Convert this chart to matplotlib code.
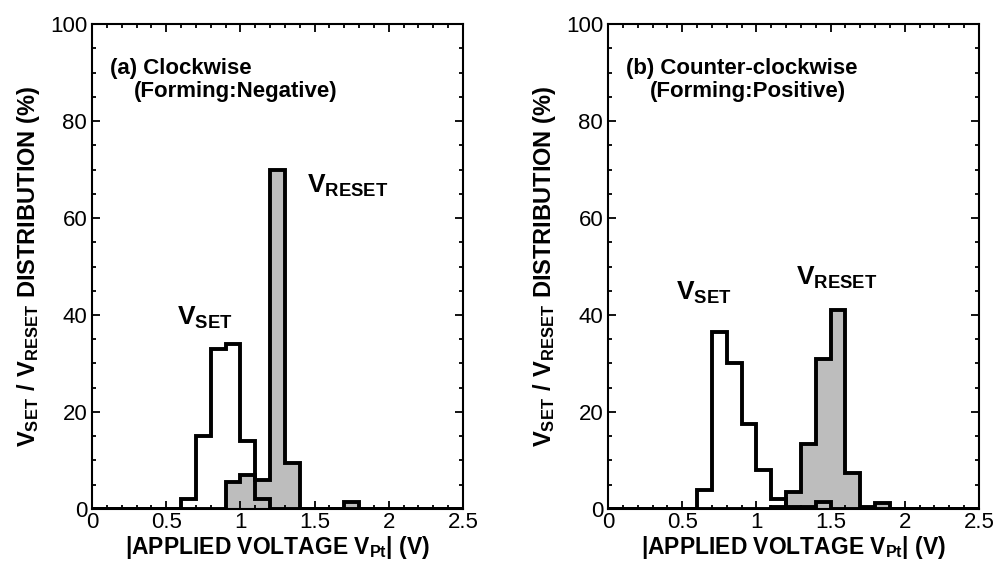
import numpy as np
import matplotlib
matplotlib.use('Agg')
import matplotlib.pyplot as plt
from matplotlib.ticker import MultipleLocator

plt.rcParams['font.family'] = ['Liberation Sans', 'DejaVu Sans']
plt.rcParams['mathtext.fontset'] = 'custom'
plt.rcParams['mathtext.rm'] = 'Liberation Sans'
plt.rcParams['mathtext.bf'] = 'Liberation Sans:bold'

# bin edges of the histograms (V), 0.1 V wide
bin_edges = np.linspace(0, 2.5, 26)

# (a) clockwise, forming negative
set_a   = [0, 0, 0, 0, 0, 0, 2, 15, 33, 34, 14, 2, 0, 0, 0, 0, 0, 0, 0, 0, 0, 0, 0, 0, 0]
reset_a = [0, 0, 0, 0, 0, 0, 0, 0, 0, 5.5, 7, 6, 70, 9.5, 0, 0, 0, 1.5, 0, 0, 0, 0, 0, 0, 0]

# (b) counter-clockwise, forming positive
set_b   = [0, 0, 0, 0, 0, 0, 4, 36.5, 30, 17.5, 8, 2, 0.5, 0.5, 1.5, 0, 0, 0, 0, 0, 0, 0, 0, 0, 0]
reset_b = [0, 0, 0, 0, 0, 0, 0, 0, 0, 0, 0, 0.5, 3.5, 13.5, 31, 41, 7.5, 0.5, 1.2, 0, 0, 0, 0, 0, 0]

panels = [
    (set_a, reset_a, '(a) Clockwise', '(Forming:Negative)', (0.57, 38), (1.447, 65.2)),
    (set_b, reset_b, '(b) Counter-clockwise', '(Forming:Positive)', (0.46, 43.2), (1.267, 46.3)),
]

fig = plt.figure(figsize=(9.94, 5.68), dpi=100)
lefts = [0.0926, 0.6117]
width = 0.3732

for (vset, vreset, title1, title2, set_pos, reset_pos), left in zip(panels, lefts):
    ax = fig.add_axes([left, 0.1039, width, 0.8538])
    ax.stairs(vreset, bin_edges, baseline=0, fill=True, color='#bdbdbd', lw=0)
    ax.stairs(vreset, bin_edges, baseline=0, fill=False, color='black', lw=2.8)
    ax.stairs(vset, bin_edges, baseline=0, fill=False, color='black', lw=2.8)

    ax.set_xlim(0, 2.5)
    ax.set_ylim(0, 100)
    ax.xaxis.set_major_locator(MultipleLocator(0.5))
    ax.xaxis.set_minor_locator(MultipleLocator(0.1))
    ax.yaxis.set_major_locator(MultipleLocator(20))
    ax.yaxis.set_minor_locator(MultipleLocator(5))
    ax.set_xticks([0, 0.5, 1, 1.5, 2, 2.5])
    ax.set_xticklabels(['0', '0.5', '1', '1.5', '2', '2.5'])
    ax.tick_params(which='both', direction='in', top=True, right=True, labelsize=16, width=1.3)
    ax.tick_params(which='major', length=6)
    ax.tick_params(axis='x', which='major', pad=2)
    ax.tick_params(which='minor', length=3)
    for sp in ax.spines.values():
        sp.set_linewidth(1.5)

    ax.set_xlabel(r'|APPLIED VOLTAGE $\mathbf{V_{Pt}}$| (V)', fontsize=16.5, fontweight='bold', labelpad=1)
    ax.set_ylabel(r'$\mathbf{V_{SET}\ /\ V_{RESET}}$ DISTRIBUTION (%)', fontsize=17, fontweight='bold', labelpad=6)

    ax.text(0.12, 89.7, title1, fontsize=16, fontweight='bold')
    ax.text(0.28, 84.9, title2, fontsize=16, fontweight='bold')
    ax.text(set_pos[0], set_pos[1], r'$\mathbf{V_{SET}}$', fontsize=19)
    ax.text(reset_pos[0], reset_pos[1], r'$\mathbf{V_{RESET}}$', fontsize=19)

fig.savefig('out.png', dpi=100)
